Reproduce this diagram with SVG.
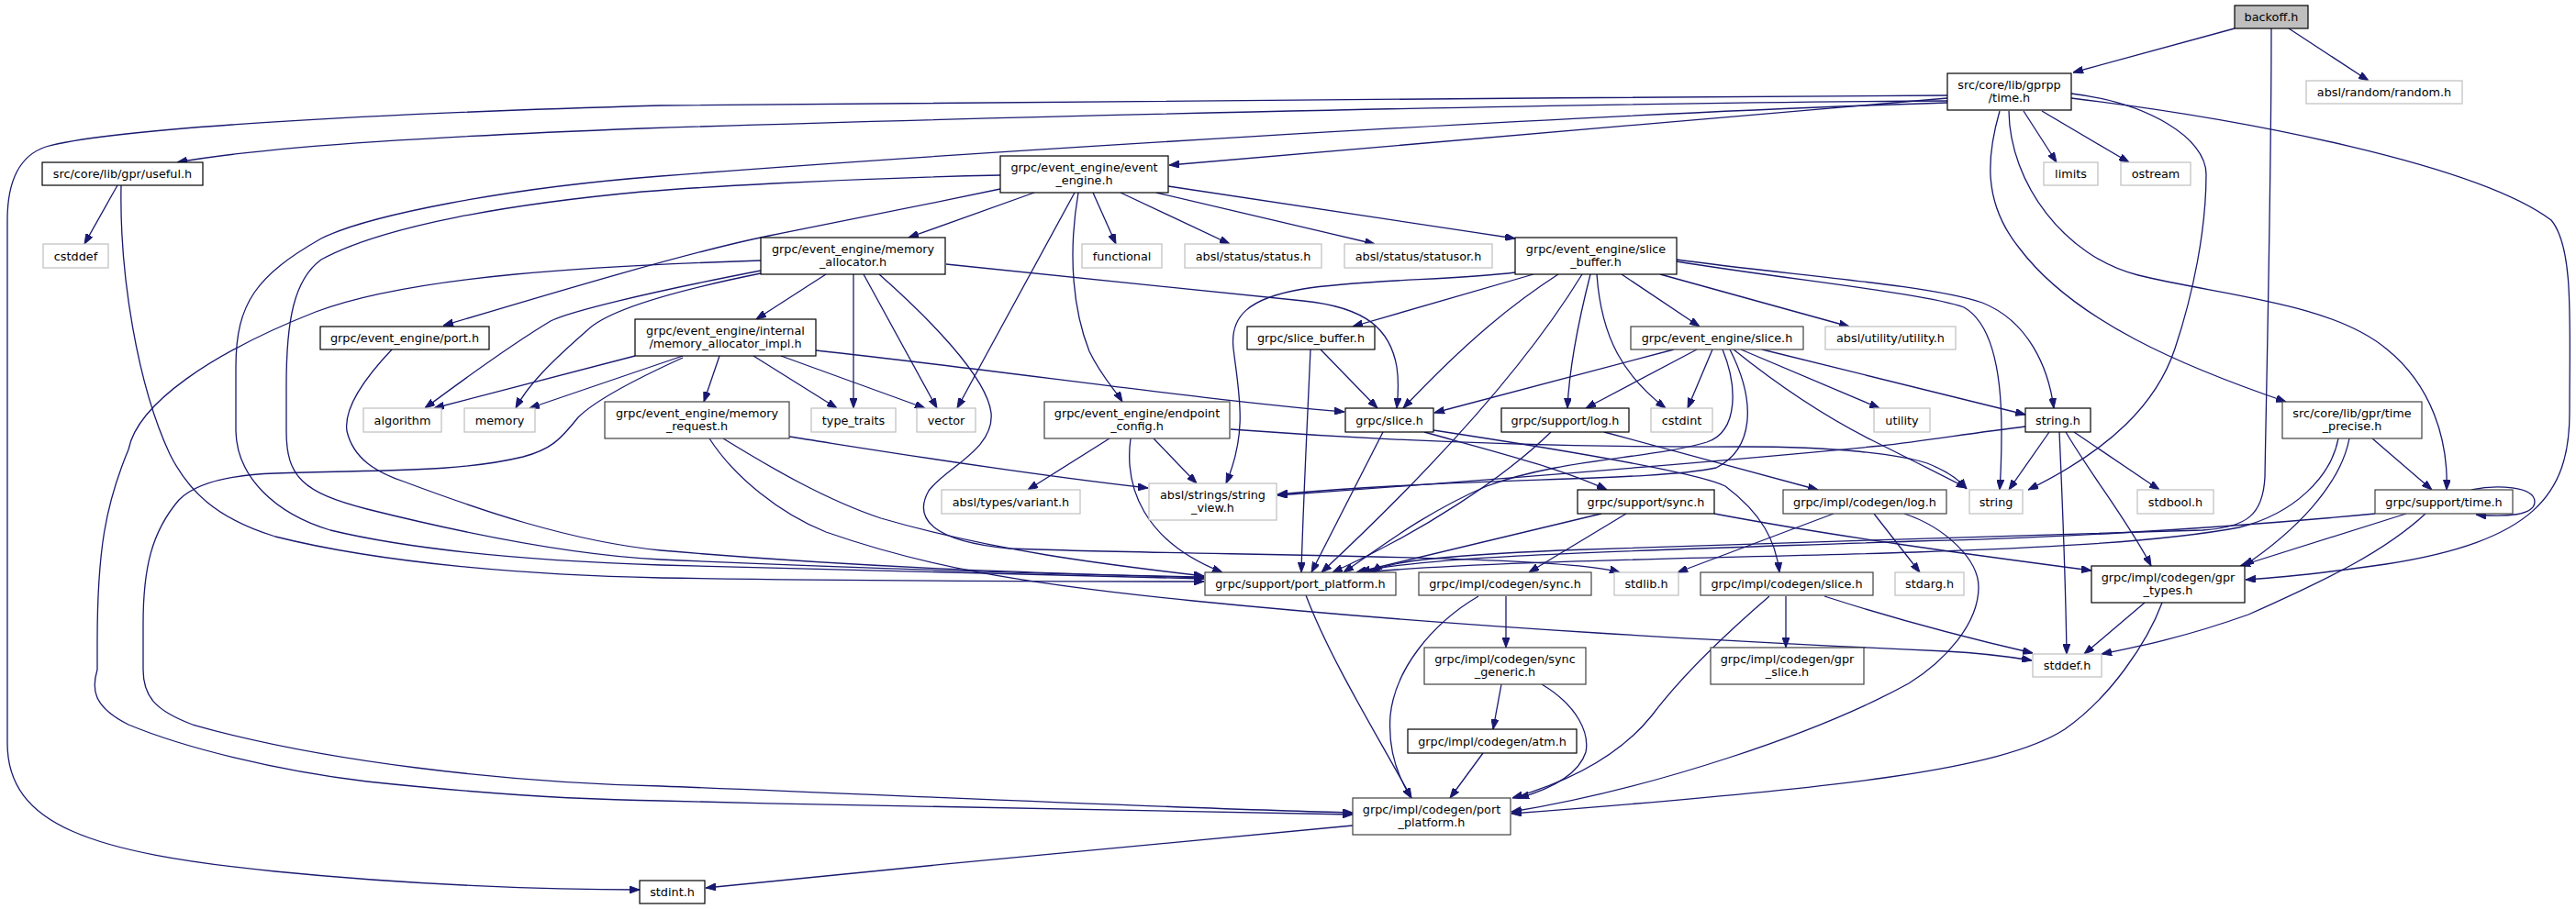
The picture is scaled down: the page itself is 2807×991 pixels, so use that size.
<svg xmlns="http://www.w3.org/2000/svg" width="2807" height="991" viewBox="0 0 2807 991">
<style>
.n rect{fill:#fff;stroke:#000;stroke-width:1.2}
.n.g rect{stroke:#404040}
.n.x rect{stroke:#bfbfbf}
.n.r rect{fill:#bfbfbf}
.n text{font-family:"DejaVu Sans","Liberation Sans",sans-serif;font-size:12.8px;text-anchor:middle;fill:#000}
.e path{fill:none;stroke:#191970;stroke-width:1.3;marker-end:url(#a)}
</style>
<defs>
<marker id="a" markerUnits="userSpaceOnUse" markerWidth="11" markerHeight="8" refX="11" refY="4" orient="auto" viewBox="0 0 11 8"><path d="M0,0L11,4L0,8z" fill="#191970" stroke="#191970"/></marker>
</defs>
<rect width="2807" height="991" fill="#fff"/>
<g id="edges" class="e">
<path d="M2435,31 L2259,79"/>
<path d="M2494,31 L2581,88"/>
<path d="M2475,31 C2475,200 2470,400 2468,520 C2466,560 2450,575 2400,578 C2200,585 1900,592 1700,600 C1570,606 1510,612 1495,624"/>
<path d="M2205,121 L2241,177"/>
<path d="M2225,121 L2320,177"/>
<path d="M2257,102 C2340,112 2404,150 2404,190 C2404,250 2390,320 2370,380 C2350,440 2300,490 2210,534"/>
<path d="M2179,121 C2165,170 2160,220 2200,270 C2260,350 2380,400 2491,438"/>
<path d="M2189,121 C2190,200 2250,280 2330,300 C2420,322 2540,330 2600,380 C2650,420 2668,480 2666,534"/>
<path d="M2257,107 C2450,130 2700,180 2780,240 C2805,270 2800,350 2800,450 C2800,540 2760,590 2600,615 C2530,625 2480,630 2447,632"/>
<path d="M2122,107 L1274,180"/>
<path d="M2122,104 C1600,108 900,110 720,115 C400,124 120,140 50,160 C20,170 8,200 8,240 L8,810 C8,900 100,930 300,950 C450,965 600,970 697,970"/>
<path d="M2122,110 C1700,112 1000,130 700,140 C500,148 300,158 193,177"/>
<path d="M2122,112 C1700,125 1000,170 720,192 C550,205 400,235 350,260 C280,300 257,330 257,400 L257,470 C258,520 300,560 360,578 C460,602 600,612 720,616 C950,622 1150,627 1312,631"/>
<path d="M1090,191 C900,195 750,205 700,209 C560,222 420,245 350,283 C320,305 312,350 312,420 L312,470 C312,520 330,537 400,555 C500,580 620,605 720,610 C950,620 1150,626 1312,629"/>
<path d="M1090,206 C1000,225 900,245 838,257 C750,275 600,320 483,355"/>
<path d="M1127,210 L990,259"/>
<path d="M1171,210 L1043,445"/>
<path d="M1175,210 C1163,280 1170,340 1187,383 C1200,410 1215,425 1223,438"/>
<path d="M1191,210 L1216,266"/>
<path d="M1221,210 L1340,266"/>
<path d="M1260,210 L1498,266"/>
<path d="M1273,203 L1651,260"/>
<path d="M900,299 L824,348"/>
<path d="M930,299 L930,445"/>
<path d="M941,299 L1021,445"/>
<path d="M958,299 C1010,345 1075,410 1080,450 C1084,490 1030,510 1012,535 C995,565 1015,590 1100,598 C1300,606 1700,604 1765,624"/>
<path d="M829,295 C700,320 620,340 600,350 C550,380 490,425 463,445"/>
<path d="M829,298 C720,320 660,340 640,360 C600,395 575,420 562,445"/>
<path d="M829,284 C650,290 450,300 344,340 C230,385 150,440 140,490 C115,550 106,600 106,700 L106,730 C100,750 100,770 140,790 C200,815 300,840 400,852 C550,868 650,872 720,873 C1000,880 1300,886 1474,888"/>
<path d="M1031,288 C1200,305 1350,320 1420,328 C1490,335 1515,360 1522,400 C1525,420 1523,435 1522,445"/>
<path d="M784,388 L767,438"/>
<path d="M821,388 L912,445"/>
<path d="M851,388 L1008,445"/>
<path d="M744,388 L577,445"/>
<path d="M692,388 L473,445"/>
<path d="M744,390 C700,410 650,435 630,455 C610,480 600,490 570,498 C500,515 420,512 300,516 C240,518 210,530 195,545 C165,580 156,620 156,680 L156,730 C156,760 170,775 210,790 C350,830 550,853 720,857 C1000,868 1300,882 1474,886"/>
<path d="M889,382 C1100,405 1300,435 1465,449"/>
<path d="M788,478 C840,510 900,545 960,565 C1080,600 1200,615 1312,628"/>
<path d="M773,478 C800,520 850,560 900,580 C1000,615 1100,635 1300,655 C1600,685 1900,700 2120,710 C2160,712 2190,716 2214,720"/>
<path d="M860,476 C950,490 1100,515 1251,532"/>
<path d="M427,381 C390,420 375,450 378,470 C385,500 410,515 440,525 C520,555 620,590 720,600 C950,620 1150,625 1312,630"/>
<path d="M128,202 L92,266"/>
<path d="M132,202 C130,300 150,420 185,495 C205,535 235,565 300,585 C420,615 580,627 720,630 C950,634 1150,634 1312,634"/>
<path d="M1651,297 C1590,305 1480,305 1420,315 C1360,325 1340,345 1344,380 C1350,430 1360,470 1336,527"/>
<path d="M1671,299 L1474,356"/>
<path d="M1698,299 C1650,330 1600,370 1529,445"/>
<path d="M1724,299 C1650,420 1530,540 1440,624"/>
<path d="M1733,299 C1720,350 1710,400 1708,445"/>
<path d="M1740,299 C1745,370 1770,410 1815,445"/>
<path d="M1767,299 L1852,356"/>
<path d="M1809,299 L2015,356"/>
<path d="M1827,283 C1950,300 2100,310 2160,330 C2210,350 2232,400 2238,445"/>
<path d="M1827,285 C1950,305 2100,320 2140,335 C2175,355 2181,420 2181,470 C2181,500 2180,520 2179,534"/>
<path d="M1439,381 L1501,445"/>
<path d="M1428,381 C1425,450 1420,550 1418,624"/>
<path d="M1507,471 L1429,624"/>
<path d="M1552,471 C1620,490 1700,510 1751,534"/>
<path d="M1562,469 C1700,490 1850,515 1880,530 C1920,560 1935,590 1939,624"/>
<path d="M1690,471 C1640,520 1550,580 1452,624"/>
<path d="M1748,471 L1981,534"/>
<path d="M1824,381 L1563,450"/>
<path d="M1849,381 L1728,445"/>
<path d="M1866,381 L1839,445"/>
<path d="M1897,381 L2048,445"/>
<path d="M1889,381 C1950,430 2000,460 2040,480 C2090,505 2120,520 2143,532"/>
<path d="M1920,381 L2207,452"/>
<path d="M1877,381 C1893,420 1895,470 1860,482 C1800,500 1700,500 1620,530 C1550,560 1500,600 1464,624"/>
<path d="M1885,381 C1915,440 1910,490 1870,510 C1800,525 1600,520 1392,539"/>
<path d="M2233,471 L2189,534"/>
<path d="M2260,471 L2353,534"/>
<path d="M2244,471 C2248,560 2251,650 2252,713"/>
<path d="M2251,471 C2280,520 2320,570 2344,617"/>
<path d="M2207,465 C2150,472 2100,480 2050,486 C1800,510 1600,525 1392,540"/>
<path d="M1209,478 L1120,534"/>
<path d="M1257,478 L1304,527"/>
<path d="M1232,478 C1225,530 1245,590 1332,624"/>
<path d="M1341,468 C1500,480 1700,488 1900,487 C2000,487 2070,495 2100,505 C2120,513 2135,523 2143,533"/>
<path d="M1745,560 L1478,624"/>
<path d="M1772,560 L1666,624"/>
<path d="M1868,560 C2000,585 2150,605 2279,622"/>
<path d="M1998,560 L1828,624"/>
<path d="M2042,560 L2092,624"/>
<path d="M2075,560 C2120,575 2156,610 2156,640 C2156,680 2120,720 2080,745 C1980,800 1800,860 1647,885"/>
<path d="M1946,650 L1946,706"/>
<path d="M1988,650 C2050,670 2120,690 2215,712"/>
<path d="M1928,650 C1870,700 1830,740 1800,780 C1760,830 1700,855 1648,870"/>
<path d="M1641,650 L1641,706"/>
<path d="M1611,650 C1560,680 1520,730 1515,780 C1512,820 1525,850 1538,870"/>
<path d="M1636,746 L1627,795"/>
<path d="M1680,746 C1720,770 1732,800 1728,820 C1720,845 1690,860 1655,870"/>
<path d="M1616,821 L1580,870"/>
<path d="M1423,649 C1450,720 1500,800 1538,870"/>
<path d="M1474,900 C1300,915 1000,945 769,968"/>
<path d="M2548,478 C2540,520 2500,560 2440,575 C2350,592 2200,598 2087,602 C1900,608 1600,612 1489,624"/>
<path d="M2560,478 C2550,530 2500,580 2445,617"/>
<path d="M2585,478 L2650,534"/>
<path d="M2693,534 C2720,528 2762,530 2762,547 C2762,562 2730,564 2698,561"/>
<path d="M2588,560 C2400,578 2200,588 2087,590 C1800,600 1550,605 1482,624"/>
<path d="M2622,560 L2441,617"/>
<path d="M2643,560 C2600,600 2540,630 2450,670 C2380,695 2330,705 2290,713"/>
<path d="M2337,657 L2271,713"/>
<path d="M2356,657 C2340,700 2300,760 2250,795 C2180,840 2000,860 1647,887"/>
</g>
<g id="backoff_h" class="n r"><rect x="2435" y="6" width="80" height="25"/><text x="2475" y="23">backoff.h</text></g>
<g id="gprpp_time_h" class="n"><rect x="2122" y="80" width="135" height="40"/><text x="2189.5" y="96.5">src/core/lib/gprpp</text><text x="2189.5" y="111">/time.h</text></g>
<g id="absl_random_h" class="n x"><rect x="2513" y="88" width="170" height="25"/><text x="2598" y="105">absl/random/random.h</text></g>
<g id="limits" class="n x"><rect x="2227" y="177" width="59" height="25"/><text x="2256.5" y="194">limits</text></g>
<g id="ostream" class="n x"><rect x="2311" y="177" width="76" height="25"/><text x="2349" y="194">ostream</text></g>
<g id="useful_h" class="n"><rect x="46" y="177" width="175" height="25"/><text x="133.5" y="194">src/core/lib/gpr/useful.h</text></g>
<g id="cstddef" class="n x"><rect x="47" y="266" width="71" height="26"/><text x="82.5" y="283.5">cstddef</text></g>
<g id="event_engine_h" class="n"><rect x="1090" y="170" width="183" height="40"/><text x="1181.5" y="186.5">grpc/event_engine/event</text><text x="1181.5" y="201">_engine.h</text></g>
<g id="memory_allocator_h" class="n"><rect x="829" y="259" width="201" height="40"/><text x="929.5" y="275.5">grpc/event_engine/memory</text><text x="929.5" y="290">_allocator.h</text></g>
<g id="functional" class="n x"><rect x="1179" y="266" width="87" height="26"/><text x="1222.5" y="283.5">functional</text></g>
<g id="absl_status_h" class="n x"><rect x="1291" y="266" width="149" height="26"/><text x="1365.5" y="283.5">absl/status/status.h</text></g>
<g id="absl_statusor_h" class="n x"><rect x="1465" y="266" width="161" height="26"/><text x="1545.5" y="283.5">absl/status/statusor.h</text></g>
<g id="ee_slice_buffer_h" class="n"><rect x="1651" y="259" width="176" height="40"/><text x="1739" y="275.5">grpc/event_engine/slice</text><text x="1739" y="290">_buffer.h</text></g>
<g id="ee_port_h" class="n"><rect x="349" y="356" width="184" height="25"/><text x="441" y="373">grpc/event_engine/port.h</text></g>
<g id="memory_allocator_impl_h" class="n"><rect x="692" y="348" width="197" height="40"/><text x="790.5" y="364.5">grpc/event_engine/internal</text><text x="790.5" y="379">/memory_allocator_impl.h</text></g>
<g id="grpc_slice_buffer_h" class="n"><rect x="1359" y="356" width="139" height="25"/><text x="1428.5" y="373">grpc/slice_buffer.h</text></g>
<g id="ee_slice_h" class="n g"><rect x="1777" y="356" width="188" height="25"/><text x="1871" y="373">grpc/event_engine/slice.h</text></g>
<g id="absl_utility_h" class="n x"><rect x="1989" y="356" width="142" height="25"/><text x="2060" y="373">absl/utility/utility.h</text></g>
<g id="algorithm" class="n x"><rect x="396" y="445" width="85" height="26"/><text x="438.5" y="462.5">algorithm</text></g>
<g id="memory" class="n x"><rect x="506" y="445" width="77" height="26"/><text x="544.5" y="462.5">memory</text></g>
<g id="memory_request_h" class="n g"><rect x="659" y="438" width="201" height="40"/><text x="759.5" y="454.5">grpc/event_engine/memory</text><text x="759.5" y="469">_request.h</text></g>
<g id="type_traits" class="n x"><rect x="884" y="445" width="92" height="26"/><text x="930" y="462.5">type_traits</text></g>
<g id="vector" class="n x"><rect x="999" y="445" width="64" height="26"/><text x="1031" y="462.5">vector</text></g>
<g id="endpoint_config_h" class="n g"><rect x="1138" y="438" width="202" height="40"/><text x="1239" y="454.5">grpc/event_engine/endpoint</text><text x="1239" y="469">_config.h</text></g>
<g id="grpc_slice_h" class="n"><rect x="1466" y="445" width="96" height="26"/><text x="1514" y="462.5">grpc/slice.h</text></g>
<g id="support_log_h" class="n"><rect x="1636" y="445" width="139" height="26"/><text x="1705.5" y="462.5">grpc/support/log.h</text></g>
<g id="cstdint" class="n x"><rect x="1799" y="445" width="67" height="26"/><text x="1832.5" y="462.5">cstdint</text></g>
<g id="utility" class="n x"><rect x="2042" y="445" width="61" height="26"/><text x="2072.5" y="462.5">utility</text></g>
<g id="string_h" class="n"><rect x="2207" y="445" width="71" height="26"/><text x="2242.5" y="462.5">string.h</text></g>
<g id="time_precise_h" class="n g"><rect x="2487" y="438" width="152" height="40"/><text x="2563" y="454.5">src/core/lib/gpr/time</text><text x="2563" y="469">_precise.h</text></g>
<g id="absl_variant_h" class="n x"><rect x="1026" y="534" width="151" height="26"/><text x="1101.5" y="551.5">absl/types/variant.h</text></g>
<g id="absl_string_view_h" class="n x"><rect x="1252" y="527" width="139" height="40"/><text x="1321.5" y="543.5">absl/strings/string</text><text x="1321.5" y="558">_view.h</text></g>
<g id="support_sync_h" class="n"><rect x="1719" y="534" width="149" height="26"/><text x="1793.5" y="551.5">grpc/support/sync.h</text></g>
<g id="codegen_log_h" class="n g"><rect x="1943" y="534" width="178" height="26"/><text x="2032" y="551.5">grpc/impl/codegen/log.h</text></g>
<g id="string" class="n x"><rect x="2146" y="534" width="58" height="26"/><text x="2175" y="551.5">string</text></g>
<g id="stdbool_h" class="n x"><rect x="2329" y="534" width="83" height="26"/><text x="2370.5" y="551.5">stdbool.h</text></g>
<g id="support_time_h" class="n g"><rect x="2588" y="534" width="150" height="26"/><text x="2663" y="551.5">grpc/support/time.h</text></g>
<g id="support_port_platform_h" class="n g"><rect x="1313" y="624" width="208" height="25"/><text x="1417" y="641">grpc/support/port_platform.h</text></g>
<g id="codegen_sync_h" class="n g"><rect x="1546" y="624" width="188" height="25"/><text x="1640" y="641">grpc/impl/codegen/sync.h</text></g>
<g id="stdlib_h" class="n x"><rect x="1759" y="624" width="70" height="25"/><text x="1794" y="641">stdlib.h</text></g>
<g id="codegen_slice_h" class="n g"><rect x="1853" y="624" width="188" height="25"/><text x="1947" y="641">grpc/impl/codegen/slice.h</text></g>
<g id="stdarg_h" class="n x"><rect x="2065" y="624" width="75" height="25"/><text x="2102.5" y="641">stdarg.h</text></g>
<g id="gpr_types_h" class="n"><rect x="2279" y="617" width="167" height="40"/><text x="2362.5" y="633.5">grpc/impl/codegen/gpr</text><text x="2362.5" y="648">_types.h</text></g>
<g id="sync_generic_h" class="n g"><rect x="1552" y="706" width="176" height="40"/><text x="1640" y="722.5">grpc/impl/codegen/sync</text><text x="1640" y="737">_generic.h</text></g>
<g id="gpr_slice_h" class="n g"><rect x="1864" y="706" width="167" height="40"/><text x="1947.5" y="722.5">grpc/impl/codegen/gpr</text><text x="1947.5" y="737">_slice.h</text></g>
<g id="stddef_h" class="n x"><rect x="2215" y="713" width="75" height="25"/><text x="2252.5" y="730">stddef.h</text></g>
<g id="atm_h" class="n"><rect x="1534" y="795" width="184" height="26"/><text x="1626" y="812.5">grpc/impl/codegen/atm.h</text></g>
<g id="codegen_port_platform_h" class="n g"><rect x="1474" y="870" width="172" height="40"/><text x="1560" y="886.5">grpc/impl/codegen/port</text><text x="1560" y="901">_platform.h</text></g>
<g id="stdint_h" class="n"><rect x="697" y="960" width="71" height="25"/><text x="732.5" y="977">stdint.h</text></g>
</svg>
